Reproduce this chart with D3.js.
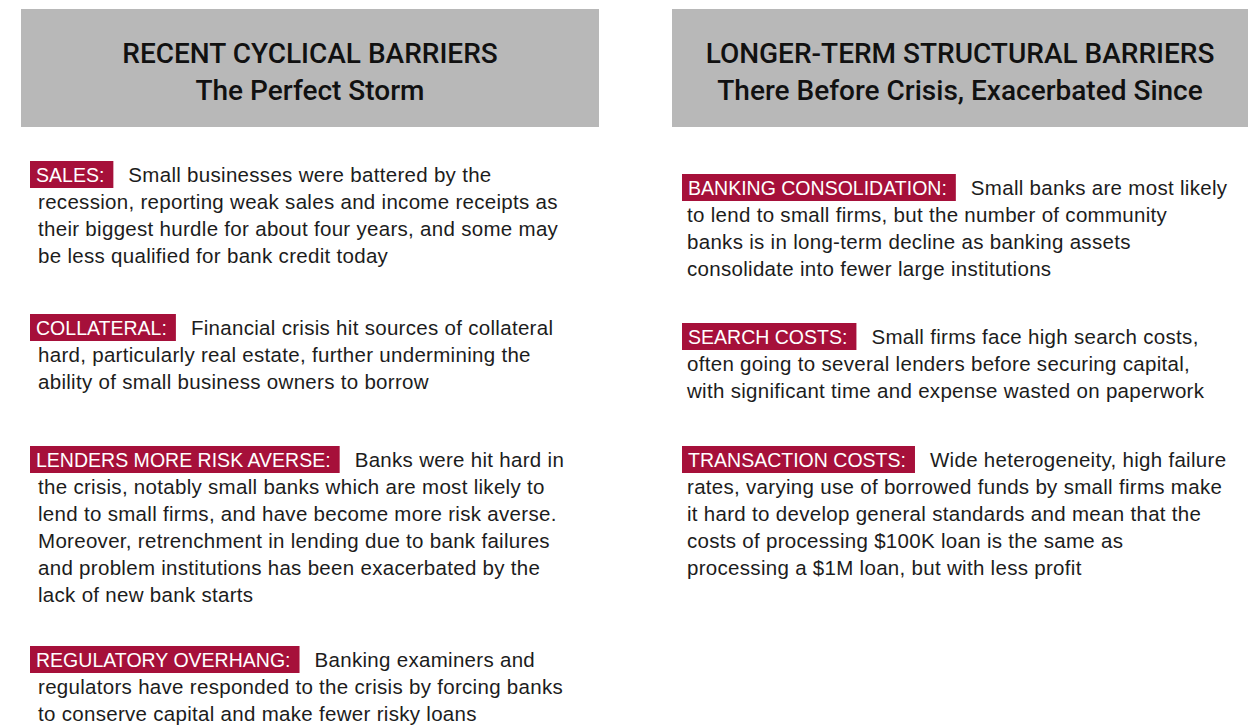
<!DOCTYPE html>
<meta charset="utf-8">
<style>
  body { margin: 0; background: #fff; }
  svg { display: block; }
</style>
<svg id="chart"></svg>
<script src="https://cdn.jsdelivr.net/npm/d3@7/dist/d3.min.js"></script>
<script>
// panel headings
var headings = [
  ["RECENT CYCLICAL BARRIERS", "The Perfect Storm"],
  ["LONGER-TERM STRUCTURAL BARRIERS", "There Before Crisis, Exacerbated Since"]
];

// left column items
var leftLabels = ["SALES:", "COLLATERAL:", "LENDERS MORE RISK AVERSE:", "REGULATORY OVERHANG:"];
var leftLines = [
  ["Small businesses were battered by the",
   "recession, reporting weak sales and income receipts as",
   "their biggest hurdle for about four years, and some may",
   "be less qualified  for bank credit today"],
  ["Financial crisis hit sources of collateral",
   "hard, particularly real estate, further undermining the",
   "ability of small business owners to borrow"],
  ["Banks were hit hard in",
   "the crisis, notably small banks which are most likely to",
   "lend to small firms, and have become more risk averse.",
   "Moreover, retrenchment in lending due to bank failures",
   "and problem institutions has been exacerbated by the",
   "lack of new bank starts"],
  ["Banking examiners and",
   "regulators have responded to the crisis by forcing banks",
   "to conserve capital and make fewer risky loans"]
];

// right column items
var rightLabels = ["BANKING CONSOLIDATION:", "SEARCH COSTS:", "TRANSACTION COSTS:"];
var rightLines = [
  ["Small banks are most likely",
   "to lend to small firms, but the number of community",
   "banks is in long-term decline as banking assets",
   "consolidate into fewer large institutions"],
  ["Small firms face high search costs,",
   "often going to several lenders before securing capital,",
   "with significant time and expense wasted on paperwork"],
  ["Wide heterogeneity, high failure",
   "rates, varying use of borrowed funds by small firms make",
   "it hard to develop general standards and mean that the",
   "costs of processing $100K loan is the same as",
   "processing a $1M loan, but with less profit"]
];

var width = 1248, height = 726;
var svg = d3.select("#chart").attr("width", width).attr("height", height);

var red = "#a6103a", grey = "#b8b8b8", ink = "#1c1c1c";
var sans = "'Liberation Sans', Arial, sans-serif";
var lineH = 27;
var labelSx = 0.93;   // squeeze labels a bit, the original uses a narrow face

var cols = [
  { x0: 21, x1: 599, textX: 38, boxX: 30, tops: [161, 314, 446, 646], labels: leftLabels, lines: leftLines },
  { x0: 672, x1: 1248, textX: 687, boxX: 682, tops: [174, 323, 446], labels: rightLabels, lines: rightLines }
];

cols.forEach(function (c, ci) {
  svg.append("rect")
    .attr("x", c.x0).attr("y", 9)
    .attr("width", c.x1 - c.x0).attr("height", 118)
    .attr("fill", grey);

  var cx = (c.x0 + c.x1) / 2;
  headings[ci].forEach(function (h, k) {
    svg.append("text")
      .attr("x", cx).attr("y", 63 + k * 37)
      .attr("text-anchor", "middle")
      .attr("font-family", "Roboto, " + sans)
      .attr("font-weight", 500)
      .attr("font-size", 28)
      .attr("fill", "#111")
      .text(h);
  });

  c.labels.forEach(function (lab, i) {
    var top = c.tops[i];
    var rect = svg.append("rect").attr("fill", red);
    var lt = svg.append("g")
      .attr("transform", "translate(" + (c.boxX + 6) + "," + (top + 21) + ") scale(" + labelSx + ",1)")
      .append("text")
      .attr("font-family", sans)
      .attr("font-size", 21)
      .attr("fill", "#fff")
      .text(lab);
    var w = lt.node().getComputedTextLength() * labelSx;
    rect.attr("x", c.boxX).attr("y", top)
      .attr("width", w + 15).attr("height", 27);

    var bt = svg.append("text")
      .attr("font-family", sans)
      .attr("font-size", 20.5)
      .attr("letter-spacing", 0.3)
      .attr("fill", ink);
    c.lines[i].forEach(function (ln, j) {
      bt.append("tspan")
        .attr("x", j === 0 ? c.boxX + w + 30 : c.textX)
        .attr("y", top + 21 + j * lineH)
        .text(ln);
    });
  });
});
</script>
